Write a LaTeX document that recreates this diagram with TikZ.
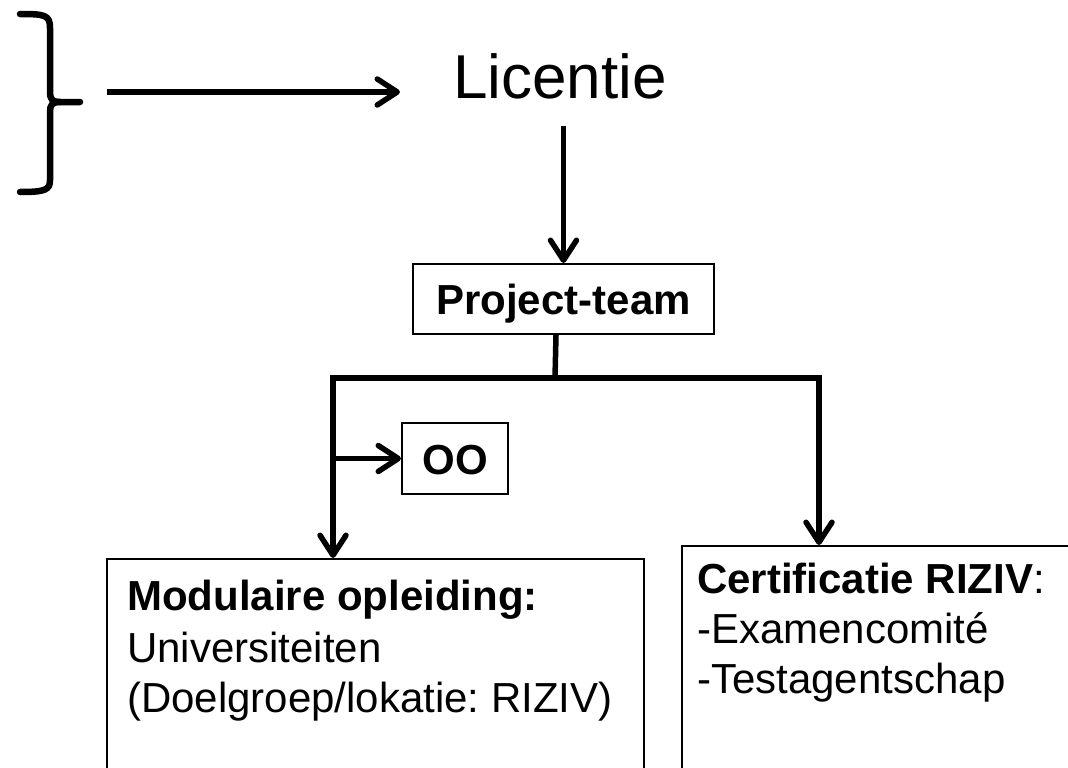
\documentclass[tikz,border=0pt]{standalone}
\usepackage{fontspec}
\setmainfont{Liberation Sans}
\usetikzlibrary{arrows.meta}
\frenchspacing
\tikzset{
  conn/.style={line width=5.5pt, line join=miter},
  arr/.style={-{Straight Barb[length=20pt,width=26pt,round]}},
  frame/.style={draw, line width=2pt, inner sep=0pt},
  bigtxt/.style={font=\fontsize{62}{70}\selectfont, inner sep=0pt, anchor=base west},
  txt/.style={font=\fontsize{42}{50}\selectfont, inner sep=0pt, anchor=base west},
  boxtxt/.style={font=\fontsize{42}{50}\selectfont\bfseries, text height=30pt, text depth=0pt}
}
\begin{document}
\begin{tikzpicture}[x=1pt,y=-1pt]
\useasboundingbox (0,0) rectangle (1068,768);

% brace
\draw[line width=6.5pt, line cap=round, line join=round]
  (20,14) .. controls (45,14) and (50,15) .. (50,28) -- (50,92)
  .. controls (50,99) and (52,102) .. (60,102) -- (80,102);
\draw[line width=6.5pt, line cap=round, line join=round]
  (60,102) .. controls (52,102) and (50,105) .. (50,112) -- (50,180)
  .. controls (50,190) and (45,192) .. (20,192);

% Licentie
\node[bigtxt] (lic) at (453,99) {Licentie};
\coordinate (a1) at (107,92);
\coordinate (a2) at (400,92);
\draw[conn, arr] (a1) -- (a2);

% Project-team
\node[frame, boxtxt, minimum width=301pt, minimum height=70pt, anchor=north west] (pt) at (412,263) {Project-team};
\draw[conn, arr] ([yshift=-26pt]lic.south -| pt.north) -- (pt.north);

% OO
\node[frame, boxtxt, minimum width=106pt, minimum height=71pt, anchor=north west, text height=31pt] (oo) at (401,422) {OO};

% bottom boxes
\node[frame, minimum width=537pt, minimum height=240pt, anchor=north west] (mo) at (106,558) {};
\node[frame, minimum width=420pt, minimum height=250pt, anchor=north west] (cr) at (681,545) {};

\node[txt] (mo1) at (127,610) {\bfseries Modulaire opleiding:};
\node[txt] (mo2) at (127,662) {Universiteiten};
\node[txt] (mo3) at (127,712) {(Doelgroep/lokatie: RIZIV)};

\node[txt] (cr1) at (697,593) {\textbf{Certificatie RIZIV}:};
\node[txt] (cr2) at (697,643) {-Examencomité};
\node[txt] (cr3) at (697,693) {-Testagentschap};

% branching connectors
\coordinate (j) at (555,378);
\coordinate (jl) at (333,378);
\coordinate (jr) at (819,378);
\draw[conn] ([xshift=-7.5pt]pt.south) -- (j);
\draw[conn, {Straight Barb[length=20pt,width=26pt,round]}-{Straight Barb[length=20pt,width=26pt,round]}]
  (jl |- mo.north) -- (jl) -- (jr) -- (jr |- cr.north);
\draw[conn, arr] (jl |- oo.west) -- (oo.west);
\end{tikzpicture}
\end{document}
